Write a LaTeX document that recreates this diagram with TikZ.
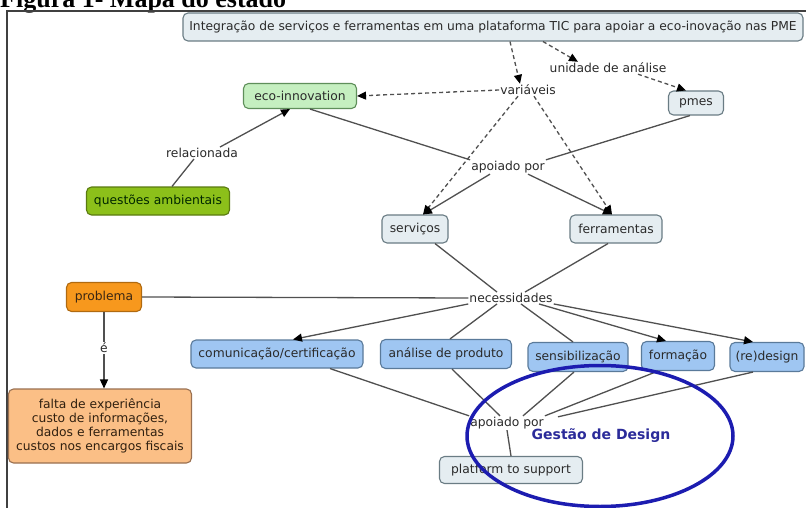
\documentclass[tikz,border=0pt]{standalone}
\usepackage{fontspec}
\setmainfont{DejaVu Sans}
\newfontfamily\titlefont{Liberation Serif}
\usetikzlibrary{arrows.meta,shapes.geometric}
\definecolor{txt}{HTML}{2A2A2A}
\definecolor{edge}{HTML}{505050}
\definecolor{grayfill}{HTML}{E5EDF1}
\definecolor{grayline}{HTML}{6A7C84}
\definecolor{bluefill}{HTML}{9FC6F2}
\definecolor{blueline}{HTML}{5A7A9A}
\definecolor{ecofill}{HTML}{C5EFC0}
\definecolor{ecoline}{HTML}{5F8F5A}
\definecolor{envfill}{HTML}{8CC01A}
\definecolor{envline}{HTML}{5A7A10}
\definecolor{probfill}{HTML}{F7981D}
\definecolor{probline}{HTML}{B06A10}
\definecolor{lackfill}{HTML}{FBBF86}
\definecolor{lackline}{HTML}{9A7050}
\definecolor{ring}{HTML}{1C1CB0}
\definecolor{gdtext}{HTML}{2B2B9A}
\tikzset{
  concept/.style={draw=grayline, fill=grayfill, line width=1.1pt, rounded corners=5pt,
    inner sep=2pt, text=txt, font=\fontsize{12.3}{14}\selectfont, align=center},
  bluebox/.style={concept, draw=blueline, fill=bluefill},
  phrase/.style={inner sep=1pt, text=txt, font=\fontsize{12.3}{14}\selectfont},
  link/.style={draw=edge, line width=1.3pt},
  dlink/.style={link, dash pattern=on 4pt off 3pt},
  tip/.style={-{Triangle[length=9pt,width=8pt,fill=black,color=black]}}
}
\begin{document}
\begin{tikzpicture}[x=1pt,y=-1pt]
\clip (0,0) rectangle (806,508);
\fill[white] (0,0) rectangle (806,508);

% caption and frame
\node[anchor=base west, inner sep=0pt, font=\titlefont\bfseries\fontsize{26}{28}\selectfont] (caption) at (0,8) {Figura 1- Mapa do estado};
\draw[line width=1.4pt, draw=black!75] (7,508) -- (7,11) -- (806,11);

% concepts
\node[concept, minimum width=620pt, minimum height=28pt] (top) at (493,27)
  {Integração de serviços e ferramentas em uma plataforma TIC para apoiar a eco-inovação nas PME};
\node[phrase] (unid) at (608,68) {unidade de análise};
\node[phrase] (var) at (528,90) {variáveis};
\node[concept, minimum width=55pt, minimum height=24pt] (pmes) at (696,103) {pmes};
\node[concept, draw=ecoline, fill=ecofill, minimum width=113pt, minimum height=25pt] (eco) at (300,96) {eco-innovation};
\node[phrase] (rel) at (202,153) {relacionada};
\node[concept, draw=envline, fill=envfill, text=black!85!green, minimum width=143pt, minimum height=28pt] (qa) at (158,201) {questões ambientais};
\node[phrase] (ap1) at (508,167) {apoiado por};
\node[concept, minimum width=66pt, minimum height=28pt] (serv) at (415,229) {serviços};
\node[concept, minimum width=92pt, minimum height=28pt] (ferr) at (616,229) {ferramentas};
\node[concept, draw=probline, fill=probfill, text=black!70!brown, minimum width=75pt, minimum height=29pt] (prob) at (104,297) {problema};
\node[phrase] (nec) at (511,298) {necessidades};
\node[phrase] (elab) at (104,348) {é};
\node[concept, draw=lackline, fill=lackfill, text=black!75!brown, minimum width=183pt, minimum height=74pt,
  font=\fontsize{12.3}{14}\selectfont] (falta) at (100,426)
  {falta de experiência\\custo de informações,\\dados e ferramentas\\custos nos encargos fiscais};
\node[bluebox, minimum width=172pt, minimum height=28pt] (com) at (277,354) {comunicação/certificação};
\node[bluebox, minimum width=131pt, minimum height=29pt] (ana) at (446,354) {análise de produto};
\node[bluebox, minimum width=100pt, minimum height=29pt] (sens) at (578,357) {sensibilização};
\node[bluebox, minimum width=73pt, minimum height=29pt] (form) at (678,356) {formação};
\node[bluebox, minimum width=74pt, minimum height=29pt] (red) at (767,357) {(re)design};
\node[phrase] (ap2) at (507,423) {apoiado por};
\node[concept, minimum width=143pt, minimum height=27pt] (plat) at (511,470) {platform to support};
\node[inner sep=0pt, text=gdtext, font=\bfseries\fontsize{14}{16}\selectfont] (gd) at (601,436) {Gestão de Design};

% dashed relations from the main concept
\draw[dlink, tip] ([xshift=17pt]top.south) -- ([xshift=-8pt]var.north);
\draw[dlink, tip] ([xshift=50pt]top.south) -- ([xshift=-30pt]unid.north);
\draw[dlink, tip] ([xshift=30pt]unid.south) -- ([xshift=-10pt]pmes.north);
\draw[dlink, tip] (var.west) -- (eco.east);
\draw[dlink, tip] ([xshift=-10pt]var.south) -- ([xshift=8pt]serv.north);
\draw[dlink, tip] ([xshift=6pt]var.south) -- ([xshift=-4pt]ferr.north);

% upper support relations
\draw[link] ([xshift=10pt]eco.south) -- (ap1.north west);
\draw[link] ([xshift=-6pt]pmes.south) -- (ap1.north east);
\draw[link, tip] ([xshift=-18pt]ap1.south) -- ([xshift=8pt]serv.north);
\draw[link, tip] ([xshift=20pt]ap1.south) -- ([xshift=-4pt]ferr.north);
\draw[link] ([xshift=14pt]qa.north) -- ([xshift=-8pt]rel.south);
\draw[link, tip] ([xshift=18pt]rel.north) -- ([xshift=-10pt]eco.south);

% needs
\draw[link] ([xshift=20pt]serv.south) -- ([xshift=-14pt]nec.north);
\draw[link] ([xshift=-8pt]ferr.south) -- ([xshift=14pt]nec.north);
\draw[link] (prob.east) -- (nec.west);
\draw[link] (prob.south) -- (elab.north);
\draw[link, tip] (elab.south) -- (elab.south |- falta.north);
\draw[link, tip] (nec.south west) -- ([xshift=16pt]com.north);
\draw[link] ([xshift=-14pt]nec.south) -- ([xshift=4pt]ana.north);
\draw[link] ([xshift=10pt]nec.south) -- ([xshift=-5pt]sens.north);
\draw[link, tip] ([xshift=28pt]nec.south) -- ([xshift=-12pt]form.north);
\draw[link, tip] (nec.south east) -- ([xshift=-14pt]red.north);

% lower support relations
\draw[link] ([xshift=53pt]com.south) -- (ap2.north west);
\draw[link] ([xshift=6pt]ana.south) -- ([xshift=-7pt]ap2.north);
\draw[link] ([xshift=-4pt]sens.south) -- ([xshift=16pt]ap2.north);
\draw[link] ([xshift=-20pt]form.south) -- (ap2.north east);
\draw[link] ([xshift=-14pt]red.south) -- ([xshift=13pt,yshift=-1pt]ap2.north east);
\draw[link] (ap2.south) -- (plat.north);

% highlight ring
\draw[draw=ring, line width=3.5pt] (600,436) ellipse[x radius=133pt, y radius=70.5pt];
\end{tikzpicture}
\end{document}
